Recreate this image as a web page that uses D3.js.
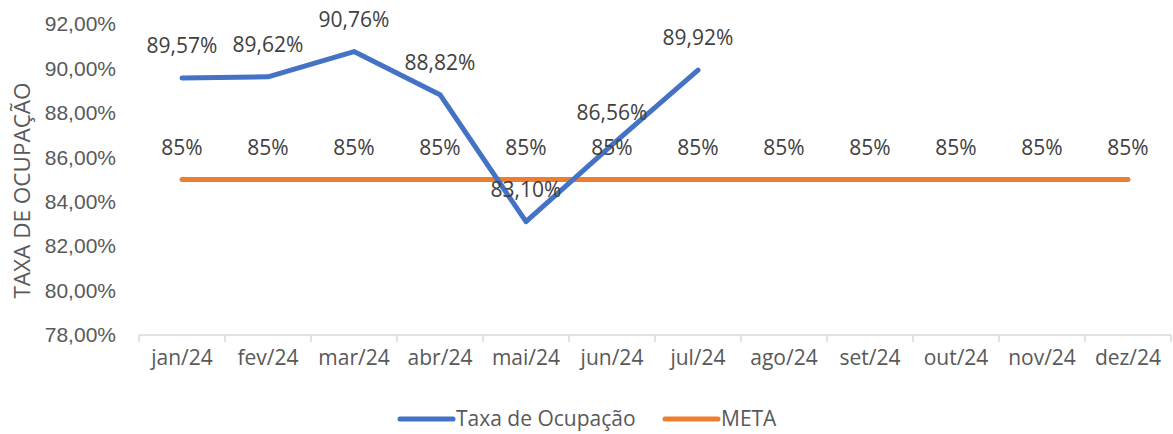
<!DOCTYPE html>
<html>
<head>
<meta charset="utf-8">
<script src="https://cdn.jsdelivr.net/npm/d3@7"></script>
<style>
  html, body { margin: 0; padding: 0; background: #fff; }
  svg { display: block; font-family: "Open Sans", "Noto Sans", sans-serif; }
</style>
</head>
<body>
<svg id="chart" width="1173" height="434"></svg>
<script>
// Monthly occupancy rate vs. target (META)
const months = ["jan/24","fev/24","mar/24","abr/24","mai/24","jun/24","jul/24","ago/24","set/24","out/24","nov/24","dez/24"];
const occupancy = [89.57, 89.62, 90.76, 88.82, 83.10, 86.56, 89.92];
const meta = [85, 85, 85, 85, 85, 85, 85, 85, 85, 85, 85, 85];
const yTicks = [78, 80, 82, 84, 86, 88, 90, 92];
const seriesNames = ["Taxa de Ocupação", "META"];

const colors = { occ: "#4472C4", meta: "#ED7D31", axisText: "#595959", label: "#404040", grid: "#D9D9D9" };
const fontSize = 21;

const svg = d3.select("#chart");
const margin = { left: 139, right: 2, top: 24, bottom: 99 };
const W = 1173, H = 434;

const x = d3.scaleBand().domain(months).range([margin.left, W - margin.right]).paddingInner(0).paddingOuter(0);
const y = d3.scaleLinear().domain([78, 92]).range([H - margin.bottom, margin.top]);
const cx = m => x(m) + x.bandwidth() / 2;

const fmtPct2 = v => v.toFixed(2).replace(".", ",") + "%";
const fmtPct0 = v => v.toFixed(0) + "%";

// Y axis (labels only, no line)
const yAxis = svg.append("g")
  .attr("transform", `translate(${margin.left - 23},0)`)
  .call(d3.axisLeft(y).tickValues(yTicks).tickFormat(fmtPct2).tickSize(0).tickPadding(0));
yAxis.select(".domain").remove();
yAxis.selectAll("text")
  .attr("fill", colors.axisText)
  .style("font-size", fontSize + "px")
  .style("font-family", "inherit");

// X axis with category divider ticks
const xAxisY = y(78);
const xg = svg.append("g").attr("transform", `translate(0,${xAxisY})`);
xg.append("line")
  .attr("x1", margin.left).attr("x2", W - margin.right)
  .attr("stroke", colors.grid).attr("stroke-width", 1.5);
const boundaries = months.map(m => x(m)).concat([x(months[months.length - 1]) + x.bandwidth()]);
xg.selectAll("line.tick").data(boundaries).join("line")
  .attr("class", "tick")
  .attr("x1", d => d).attr("x2", d => d)
  .attr("y1", 0).attr("y2", 7)
  .attr("stroke", colors.grid).attr("stroke-width", 1.5);
xg.selectAll("text").data(months).join("text")
  .attr("x", d => cx(d)).attr("y", 30)
  .attr("text-anchor", "middle")
  .attr("fill", colors.axisText)
  .style("font-size", fontSize + "px")
  .text(d => d);

// Y axis title
svg.append("text")
  .attr("transform", `translate(30,${(margin.top + H - margin.bottom) / 2 + 11}) rotate(-90)`)
  .attr("text-anchor", "middle")
  .attr("fill", colors.axisText)
  .style("font-size", "22.5px")
  .text("TAXA DE OCUPAÇÃO");

// META line
const line = d3.line().x(d => cx(d.m)).y(d => y(d.v));
const metaData = months.map((m, i) => ({ m, v: meta[i] }));
svg.append("path")
  .datum(metaData)
  .attr("d", line)
  .attr("fill", "none")
  .attr("stroke", colors.meta)
  .attr("stroke-width", 5)
  .attr("stroke-linecap", "round")
  .attr("stroke-linejoin", "round");

// Occupancy line
const occData = occupancy.map((v, i) => ({ m: months[i], v }));
svg.append("path")
  .datum(occData)
  .attr("d", line)
  .attr("fill", "none")
  .attr("stroke", colors.occ)
  .attr("stroke-width", 5)
  .attr("stroke-linecap", "round")
  .attr("stroke-linejoin", "round");

// META labels
svg.append("g").selectAll("text").data(metaData).join("text")
  .attr("x", d => cx(d.m)).attr("y", d => y(d.v) - 25)
  .attr("text-anchor", "middle")
  .attr("fill", colors.label)
  .style("font-size", fontSize + "px")
  .text(d => fmtPct0(d.v));

// Occupancy labels
svg.append("g").selectAll("text").data(occData).join("text")
  .attr("x", d => cx(d.m)).attr("y", d => y(d.v) - 25)
  .attr("text-anchor", "middle")
  .attr("fill", colors.label)
  .style("font-size", fontSize + "px")
  .text(d => fmtPct2(d.v));

// Legend
const legendY = 419;
const legend = svg.append("g");
const items = [
  { name: seriesNames[0], color: colors.occ, x0: 400, x1: 453 },
  { name: seriesNames[1], color: colors.meta, x0: 665, x1: 718 }
];
items.forEach(it => {
  legend.append("line")
    .attr("x1", it.x0).attr("x2", it.x1)
    .attr("y1", legendY).attr("y2", legendY)
    .attr("stroke", it.color).attr("stroke-width", 5)
    .attr("stroke-linecap", "round");
  legend.append("text")
    .attr("x", it.x1 + 3).attr("y", legendY + 7)
    .attr("fill", colors.axisText)
    .style("font-size", fontSize + "px")
    .text(it.name);
});
</script>
</body>
</html>
